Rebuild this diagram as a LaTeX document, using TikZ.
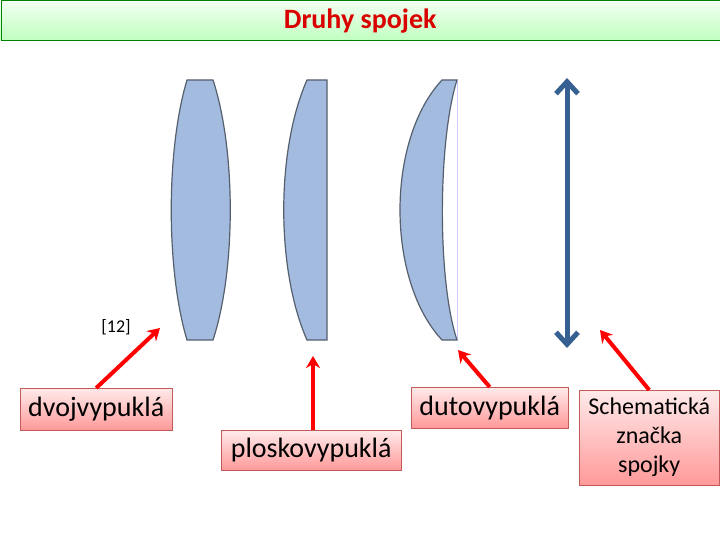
\documentclass[tikz,border=0pt]{standalone}
\usepackage{fontspec}
\setmainfont{Carlito}
\usetikzlibrary{arrows.meta}
\definecolor{lensfill}{RGB}{163,187,222}
\definecolor{lensline}{RGB}{85,95,110}
\definecolor{symblue}{RGB}{55,96,146}
\definecolor{boxline}{RGB}{195,90,90}

\begin{document}
\begin{tikzpicture}[x=1pt, y=-1pt,
    lens/.style={fill=lensfill, draw=lensline, line width=1.2pt},
    namebox/.style={draw=boxline, top color=red!8, bottom color=red!40, inner sep=3pt, font=\fontsize{28}{30}\selectfont},
    pointer/.style={-{Stealth[length=12pt, width=14pt]}, red, line width=4pt}]
    \useasboundingbox (0,0) rectangle (720,540);
    % title
    \node[draw=green!50!black, top color=green!5, bottom color=green!25, minimum width=719pt, minimum height=40pt, anchor=north west,
        font=\bfseries\fontsize{28}{30}\selectfont, text=red!85!black] (title) at (0.5,0.5) {Druhy spojek};

    % lenses
    \draw[lens] (187,80) -- (213,80) .. controls (236,150) and (236,270) .. (213,340)
        -- (187,340) .. controls (166,270) and (166,150) .. cycle;
    \draw[lens] (307,80) -- (327,80) -- (327,340) -- (307,340)
        .. controls (276,270) and (276,150) .. cycle;
    \draw[blue!20, line width=1pt] (457,80) -- (457,340);
    \draw[lens] (442,80) -- (457,80) .. controls (438,140) and (437,280) .. (457,340)
        -- (442,340) .. controls (386,280) and (386,140) .. cycle;
    \draw[symblue, line width=5pt, {Straight Barb[length=12pt, width=22pt]}-{Straight Barb[length=12pt, width=22pt]}] (567,78) -- (567,348);

    \node[font=\fontsize{18}{20}\selectfont] (ref) at (116,327) {[12]};

    % labels
    \node[namebox, anchor=north west, minimum width=152pt, minimum height=42pt] (dvoj) at (20,388) {dvojvypuklá};
    \node[namebox, anchor=north west, minimum width=180pt, minimum height=40pt] (plosko) at (221,430) {ploskovypuklá};
    \node[namebox, anchor=north west, minimum width=157pt, minimum height=41pt] (duto) at (411,387) {dutovypuklá};
    \node[namebox, anchor=north west, minimum width=140pt, minimum height=95pt, align=center,
        font=\fontsize{24}{29}\selectfont] (schema) at (579,390) {Schematická\\značka\\spojky};

    \coordinate (t1) at (160,328);
    \coordinate (t2) at (313,356);
    \coordinate (t3) at (458,350);
    \coordinate (t4) at (600,330);
    \draw[pointer] (dvoj.north) -- (t1);
    \draw[pointer] (plosko.north -| t2) -- (t2);
    \draw[pointer] (duto.north) -- (t3);
    \draw[pointer] (schema.north) -- (t4);
\end{tikzpicture}
\end{document}
